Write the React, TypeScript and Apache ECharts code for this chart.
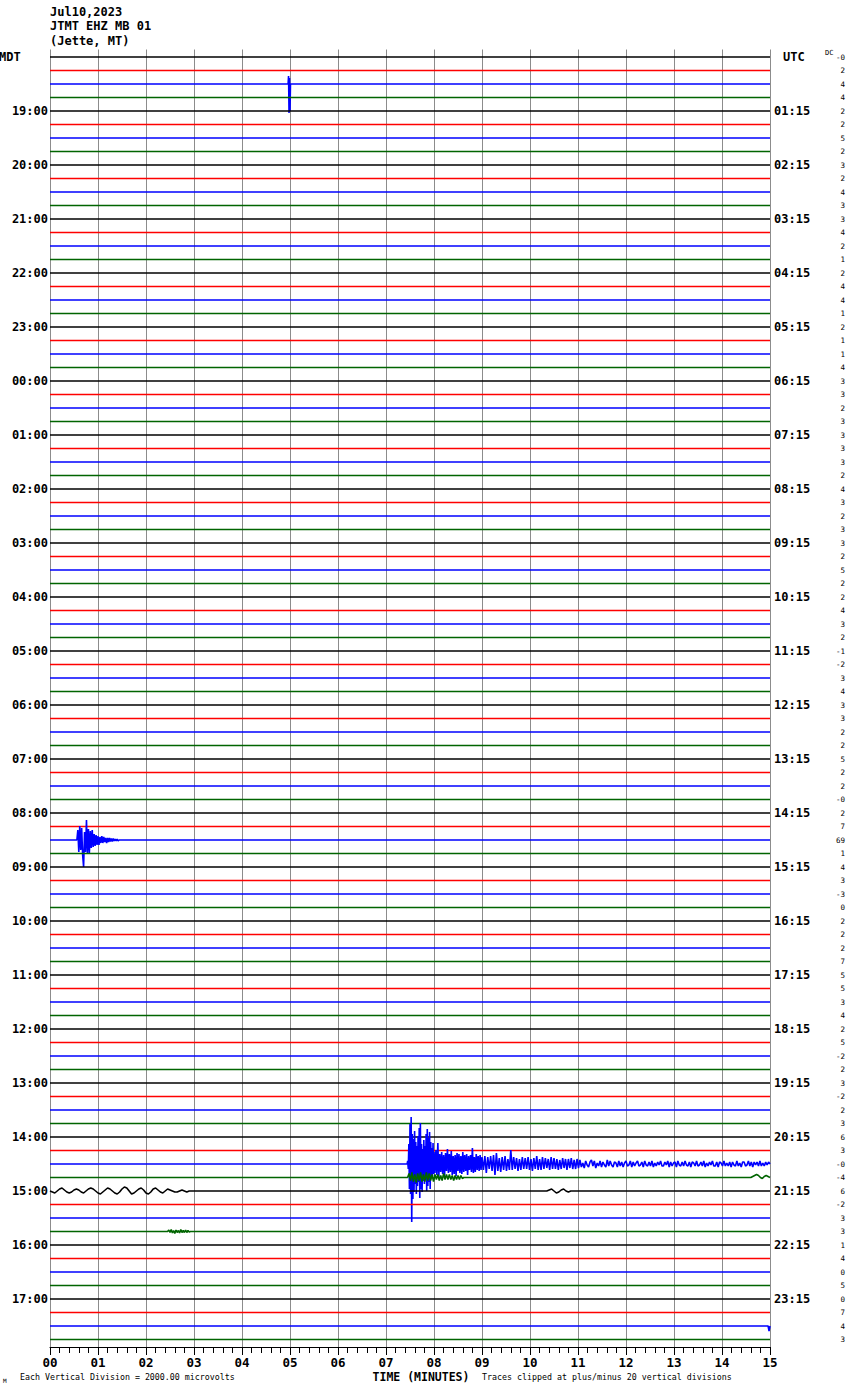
import React, { useEffect, useRef } from "react";
import * as echarts from "echarts";

// ---------- data ----------
const TITLE_LINES = ["Jul10,2023", "JTMT EHZ MB 01", "(Jette, MT)"];
const TRACE_COLORS = ["#000000", "#ff0000", "#0000ff", "#006400"];
const TRACE_COUNT = 96;
const MINUTE_TICKS = ["00", "01", "02", "03", "04", "05", "06", "07", "08", "09", "10", "11", "12", "13", "14", "15"];
const MDT_HOURS = ["19:00", "20:00", "21:00", "22:00", "23:00", "00:00", "01:00", "02:00", "03:00", "04:00", "05:00", "06:00",
  "07:00", "08:00", "09:00", "10:00", "11:00", "12:00", "13:00", "14:00", "15:00", "16:00", "17:00"];
const UTC_HOURS = ["01:15", "02:15", "03:15", "04:15", "05:15", "06:15", "07:15", "08:15", "09:15", "10:15", "11:15", "12:15",
  "13:15", "14:15", "15:15", "16:15", "17:15", "18:15", "19:15", "20:15", "21:15", "22:15", "23:15"];
const DC_OFFSETS = ["-0", "2", "4", "4", "2", "2", "5", "2", "3", "2", "4", "3", "3", "4", "2", "1", "2", "4", "4", "1",
  "2", "1", "1", "4", "3", "3", "2", "3", "3", "3", "3", "2", "4", "3", "2", "3", "3", "2", "5", "2",
  "2", "4", "3", "2", "-1", "-2", "3", "4", "3", "3", "2", "2", "5", "2", "2", "-0", "2", "7", "69", "1",
  "4", "3", "-3", "0", "2", "2", "2", "7", "5", "5", "3", "4", "2", "5", "-2", "2", "3", "-2", "2", "3",
  "6", "3", "-0", "-4", "6", "-2", "3", "3", "1", "4", "0", "5", "0", "7", "4", "3"];

// event samples: amplitude (up positive, in screen units) read from the record
const SPIKE_1830 = [0, 8, -29, 6, -27, 0];
const QUAKE_0830 = [0, 10, -12, 14, -10, 12, -15, -27, 8, -12, 20, -14, 11, -13, 9, -8, 10, -7, 6, -6, 5, -5, 4, -5, 3, -3,
  4, -3, 3, -2, 2, -3, 2, -2, 2, -1.5, 1.5, -1.5, 1.5, -1, 1, -1, 1, -1, 0];
const QUAKE_1430_P1 = [0, 3, -5, 20, -25, 40, -30, 47, -58, 30, -35, 25, -28, 33, -20, 22, -30, 18, -22, 28, -18, 36, -34, 41,
  -25, 20, -28, 15, -17, 24, -20, 18, -15, 30, -27, 35, -22, 26, -18, 32, -25, 22, -14, 16, -12, 21, -10];
const QUAKE_1430_P2 = [12, -9, 14, -11, 21, -13, 10, -8, 12, -10, 9, -12, 11, -7, 15, -9, 10, -8, 13, -11,
  8, -10, 9, -12, 11, -7, 10, -9, 8, -10, 12, -8, 9, -7, 10, -11, 8, -6, 9, -8, 16, -9, 7, -8, 10, -6, 8, -7, 9, -6];
const QUAKE_1430_P3 = [7, -6, 8, -9, 7, -5, 8, -7, 9, -11, 11, -7, 6, -8, 7, -6, 8, -7, 5, -6, 14, -6, 7, -5, 6, -7, 5, -6, 7, -5,
  6, -5, 7, -6, 5, -7, 6, -5, 8, -6, 5, -6, 7, -5, 6, -4, 5, -6, 7, -5, 6, -5, 5, -6, 4, -5, 6, -4, 5, -6,
  5, -4, 6, -5, 4, -5, 5, -4];
const QUAKE_1430_P4 = [4, -3, 1, -4, 3, -1, -3, 2, 4, -2, 3, -4, 1, -2, 3, -3, 2, -1, -3, 4,
  -2, 3, -1, -3, 2, 1, -3, 3, -2, 2, -3, 1, 3, -2, -1, 3, -3, 2, -2, 1,
  3, -2, -1, 2, -3, 3, -1, -2, 2, -2, 3, -3, 1, -2, 2, -1, 3, -2, -2, 2,
  -1, 3, -3, 2, -2, 1, 2, -3, 3, -1, -2, 2, -2, 3, -1, -2, 2, -3, 2, 1,
  -2, 3, -2, -1, 2, -2, 3, -3, 1, -2, 2, -1, 3, -2, -2, 2, -3, 2, 1, -2,
  3, -2, 1, -2, 2, -3, 2, -1, -2, 3, -2, 1, -3, 2, 2, -2, -1, 3, -2, 2,
  -3, 2, -1, 2, -2, 3, -2, 1, -2, 2, -1, 2];
const QUAKE_1445_GREEN = [0, 4, -3, 5, -4, 3, -5, 4, -3, 5, -4, 3, -4, 5, -3, 4, -3, 3, -4, 3, -2, 3, -3, 2, -3, 4, -2, 3, -2, 3,
  -2, 2, -3, 2, -2, 2, -2, 2, -1, 0];
const GREEN_1445_TAIL = [0, 1, 2, 3, 2, 0, -1, 1, 2, 1, 0];
const SURFACE_1500 = [0, -1, -2, 0, 2, 3, 1, -1, -2, -1, 1, 2, 1, -1, -2, 0, 2, 3, 2, 0, -2, -3, -1, 1, 3, 2, 0, -2, -3, -1,
  2, 4, 3, 0, -3, -2, 0, 2, 3, 1, -2, -3, -1, 2, 3, 1, -1, -2, 0, 2, 1, 0, -1, -1, 0, 1, 0, -1, 0, 0];
const WIGGLE_1500_B = [0, 1, 2, 0, -2, -1, 1, 2, 0, -1, 0];
const BURST_1545 = [0, 1.5, -1, 2, -1.5, 1, -2, 1.5, -1, 1, -1.5, 2, -1, 1, -1, 1.5, -1, 1, -0.5, 0];
const TICK_2330 = [0, -5, 0];

// trace index, start minute, sample step (minutes), samples
const EVENTS: { trace: number; start: number; step: number; values: number[] }[] = [
  { trace: 2, start: 4.96, step: 0.01, values: SPIKE_1830 },
  { trace: 58, start: 0.56, step: 0.02, values: QUAKE_0830 },
  { trace: 82, start: 7.44, step: 0.012, values: QUAKE_1430_P1 },
  { trace: 82, start: 8.0, step: 0.02, values: QUAKE_1430_P2 },
  { trace: 82, start: 9.0, step: 0.03, values: QUAKE_1430_P3 },
  { trace: 82, start: 11.04, step: 0.03, values: QUAKE_1430_P4 },
  { trace: 83, start: 7.45, step: 0.03, values: QUAKE_1445_GREEN },
  { trace: 83, start: 14.6, step: 0.04, values: GREEN_1445_TAIL },
  { trace: 84, start: 0.0, step: 0.05, values: SURFACE_1500 },
  { trace: 84, start: 10.35, step: 0.05, values: WIGGLE_1500_B },
  { trace: 87, start: 2.45, step: 0.025, values: BURST_1545 },
  { trace: 94, start: 14.96, step: 0.02, values: TICK_2330 },
];

// ---------- layout ----------
const SPACING = 13.5;
const FONT = '"DejaVu Sans Mono", monospace';

function traceData(i: number): [number, number][] {
  const base = SPACING * (i + 1);
  const map = new Map<number, number>();
  map.set(0, 0);
  map.set(15, 0);
  EVENTS.filter((e) => e.trace === i).forEach((e) => {
    e.values.forEach((v, k) => {
      const t = Math.round((e.start + k * e.step) * 10000) / 10000;
      map.set(t, v);
    });
  });
  return Array.from(map.entries())
    .sort((a, b) => a[0] - b[0])
    .map(([t, v]) => [t, base - v]);
}

function rowIndex(v: number): number {
  const k = v / SPACING;
  const r = Math.round(k);
  if (Math.abs(k - r) > 0.01) return -1;
  return r - 1;
}

export default function App() {
  const ref = useRef<HTMLDivElement>(null);
  useEffect(() => {
    document.body.style.margin = "0";
    const chart = echarts.init(ref.current!, null, { renderer: "svg" });
    const series: any[] = [];
    for (let i = 0; i < TRACE_COUNT; i++) {
      series.push({
        type: "line",
        data: traceData(i),
        showSymbol: false,
        symbol: "none",
        silent: true,
        lineStyle: { color: TRACE_COLORS[i % 4], width: 1.6 },
        z: 3,
      });
    }
    const yBase = {
      type: "value",
      min: 0,
      max: 1303.5,
      interval: SPACING,
      inverse: true,
      axisLine: { show: false },
      axisTick: { show: false },
      splitLine: { show: false },
    };
    const option: any = {
      animation: false,
      backgroundColor: "#ffffff",
      grid: { left: 50, right: 80, top: 43.5, bottom: 43 },
      xAxis: {
        type: "value",
        min: 0,
        max: 15,
        interval: 1,
        axisLine: { show: true, onZero: false, lineStyle: { color: "#000", width: 1 } },
        axisTick: { show: true, length: 8, lineStyle: { color: "#000" } },
        minorTick: { show: true, splitNumber: 5, length: 6, lineStyle: { color: "#000" } },
        splitLine: { show: true, lineStyle: { color: "#8c8c8c", width: 1 } },
        axisLabel: {
          formatter: (v: number) => MINUTE_TICKS[Math.round(v)] ?? "",
          fontFamily: FONT,
          fontWeight: "bold",
          fontSize: 12.5,
          color: "#000",
          margin: 9,
        },
      },
      yAxis: [
        {
          ...yBase,
          position: "left",
          axisLabel: {
            formatter: (v: number) => {
              const i = rowIndex(v);
              if (i > 0 && i % 4 === 0) return MDT_HOURS[i / 4 - 1] ?? "";
              return "";
            },
            margin: 2,
            padding: [3, 0, 0, 0],
            fontFamily: FONT,
            fontWeight: "bold",
            fontSize: 12,
            color: "#000",
          },
        },
        {
          ...yBase,
          position: "right",
          axisLabel: {
            formatter: (v: number) => {
              const i = rowIndex(v);
              if (i > 0 && i % 4 === 0) return UTC_HOURS[i / 4 - 1] ?? "";
              return "";
            },
            margin: 4,
            padding: [3, 0, 0, 0],
            fontFamily: FONT,
            fontWeight: "bold",
            fontSize: 12,
            color: "#000",
          },
        },
        {
          ...yBase,
          position: "right",
          offset: 70,
          axisLabel: {
            formatter: (v: number) => {
              const i = rowIndex(v);
              return i >= 0 && i < TRACE_COUNT ? DC_OFFSETS[i] : "";
            },
            margin: 5,
            align: "right",
            fontFamily: FONT,
            fontSize: 7.5,
            color: "#000",
          },
        },
      ],
      graphic: [
        { type: "rect", shape: { x: 49, y: 42, width: 723, height: 7.5 }, style: { fill: "#ffffff" }, z: 100 },
        ...TITLE_LINES.map((t, k) => ({
          type: "text",
          x: 50,
          y: [12, 26, 41][k],
          z: 101,
          style: { text: t, font: `bold 12px ${FONT}`, fill: "#000", verticalAlign: "middle" },
        })),
        { type: "text", x: -1, y: 57, z: 101, style: { text: "MDT", font: `bold 12px ${FONT}`, fill: "#000", verticalAlign: "middle" } },
        { type: "text", x: 783, y: 57, z: 101, style: { text: "UTC", font: `bold 12px ${FONT}`, fill: "#000", verticalAlign: "middle" } },
        { type: "text", x: 825, y: 53, z: 101, style: { text: "DC", font: `7px ${FONT}`, fill: "#000", verticalAlign: "middle" } },
        { type: "text", x: 20, y: 1377, z: 101, style: { text: "Each Vertical Division = 2000.00 microvolts", font: `8.3px ${FONT}`, fill: "#000", verticalAlign: "middle" } },
        { type: "text", x: 421, y: 1377, z: 101, style: { text: "TIME (MINUTES)", font: `bold 11.5px ${FONT}`, fill: "#000", align: "center", verticalAlign: "middle" } },
        { type: "text", x: 482, y: 1377, z: 101, style: { text: "Traces clipped at plus/minus 20 vertical divisions", font: `8.3px ${FONT}`, fill: "#000", verticalAlign: "middle" } },
        { type: "text", x: 3, y: 1380, z: 101, style: { text: "M", font: `6px ${FONT}`, fill: "#000", verticalAlign: "middle" } },
      ],
      series,
    };
    chart.setOption(option);
    return () => chart.dispose();
  }, []);
  return <div ref={ref} style={{ width: 850, height: 1390 }} />;
}
